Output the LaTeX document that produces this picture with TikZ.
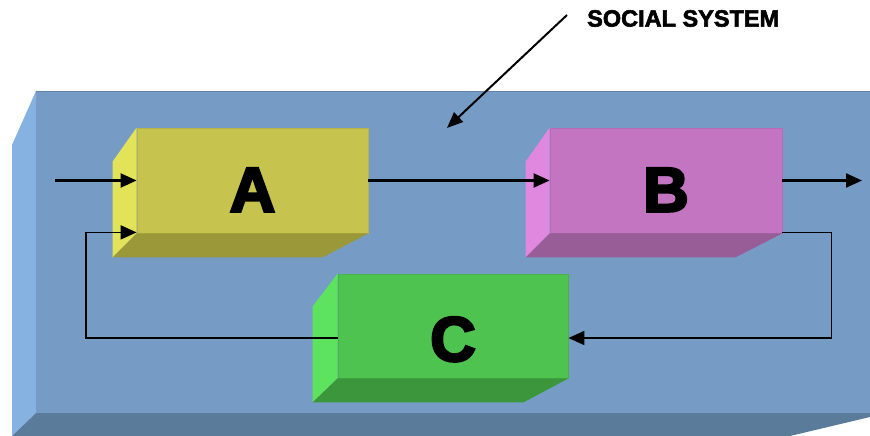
\documentclass[tikz,border=0pt]{standalone}
\usepackage{fontspec}
\setmainfont{Liberation Sans}
\newfontfamily\heavyfont{Liberation Sans}[BoldFeatures={FakeBold=4}]
\newfontfamily\titlefont{Liberation Sans}[BoldFeatures={FakeBold=2.5}]
\usetikzlibrary{arrows.meta,calc}
\definecolor{slabfront}{HTML}{769CC6}
\definecolor{slabside}{HTML}{86B2E2}
\definecolor{slabbottom}{HTML}{5B7B9A}
\definecolor{Afront}{HTML}{C6C44E}
\definecolor{Aside}{HTML}{E3E35A}
\definecolor{Abottom}{HTML}{9A9838}
\definecolor{Bfront}{HTML}{C475C2}
\definecolor{Bside}{HTML}{E088E0}
\definecolor{Bbottom}{HTML}{985C96}
\definecolor{Cfront}{HTML}{4FC34F}
\definecolor{Cside}{HTML}{5EE35E}
\definecolor{Cbottom}{HTML}{3C963C}
\begin{document}
\begin{tikzpicture}[x=1pt,y=-1pt,
  frontface/.style={rectangle,inner sep=0pt,minimum width=231pt,minimum height=105pt,
    font=\fontsize{63}{63}\heavyfont\bfseries,text height=62pt,text depth=0pt,line width=0.8pt},
  flow/.style={line width=2.3pt,-{Triangle[length=16pt,width=14pt]}},
  backarrow/.style={line width=1.8pt,-{Triangle[length=16pt,width=14pt]}}]
\useasboundingbox (0,0) rectangle (870,436);
% social system slab
\fill[slabside] (12,145) -- (36,91) -- (36,413) -- (12,436) -- cycle;
\fill[slabbottom] (36,413) -- (870,413) -- (870,417) -- (790,436) -- (12,436) -- cycle;
\node[rectangle,fill=slabfront,inner sep=0pt,minimum width=834pt,minimum height=322pt] (sys) at (453,252) {};
\draw[slabfront!85!black,line width=0.6pt] (sys.north west) -- (sys.north east);
% boxes
\node[frontface,fill=Afront,draw=Afront!92!black,text height=62pt] (A) at (252.5,180.5) {A};
\node[frontface,fill=Bfront,draw=Bfront!92!black,minimum width=232pt,text height=62pt] (B) at (666,180.5) {B};
\node[frontface,fill=Cfront,draw=Cfront!92!black,minimum width=230pt,minimum height=104pt,text height=70pt] (C) at (453,326) {C};
% side and bottom faces
\fill[Aside] (A.north west) -- ++(-24,34) -- ($(A.south west)+(-24,24)$) -- (A.south west) -- cycle;
\fill[Abottom] (A.south west) -- (A.south east) -- ($(A.south east)+(-46,24)$) -- ($(A.south west)+(-24,24)$) -- cycle;
\fill[Bside] (B.north west) -- ++(-24,34) -- ($(B.south west)+(-24,24)$) -- (B.south west) -- cycle;
\fill[Bbottom] (B.south west) -- (B.south east) -- ($(B.south east)+(-47,24)$) -- ($(B.south west)+(-24,24)$) -- cycle;
\fill[Cside] (C.north west) -- ++(-25,33) -- ($(C.south west)+(-25,24)$) -- (C.south west) -- cycle;
\fill[Cbottom] (C.south west) -- (C.south east) -- ($(C.south east)+(-45,24)$) -- ($(C.south west)+(-25,24)$) -- cycle;
% title
\node[anchor=west,inner sep=0pt,font=\fontsize{23.5}{23.5}\titlefont\bfseries] (title) at (587,18.5) {SOCIAL SYSTEM};
\coordinate (st) at (567,15);
\coordinate (sp) at (447,128);
\draw[line width=2pt,-{Triangle[length=16pt,width=13pt]}] (st) -- (sp);
% connectors
\coordinate (in) at (55,180.5);
\coordinate (out) at (862,180.5);
\coordinate (Afb) at ($(A.south west)+(0,-1)$);
\coordinate (Bfb) at ($(B.south east)+(0,-1)$);
\coordinate (Cin) at ($(C.east)+(0,12)$);
\coordinate (Cout) at ($(C.west)+(0,12)$);
\draw[flow] (in) -- (A.west);
\draw[flow] (A.east) -- (B.west);
\draw[flow] (B.east) -- (out);
\draw[backarrow] (Bfb) -- ++(49,0) |- (Cin);
\draw[backarrow] (Cout) -- (86,338) |- (Afb);
\end{tikzpicture}
\end{document}
